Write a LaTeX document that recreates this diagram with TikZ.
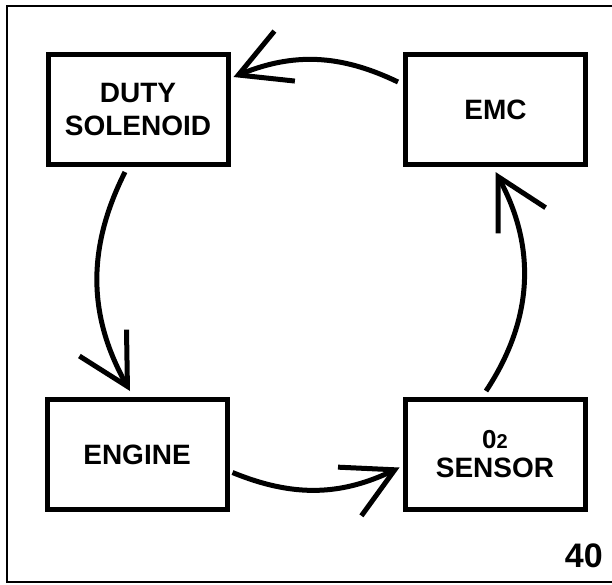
\documentclass[tikz,border=0pt]{standalone}
\usepackage{fontspec}
\setmainfont{Liberation Sans}
\usetikzlibrary{arrows.meta}
\begin{document}
\begin{tikzpicture}[x=1pt,y=-1pt,
  block/.style={draw=black, line width=5pt, minimum width=180pt, minimum height=110pt,
    inner sep=0pt, align=center, font=\bfseries\fontsize{28}{33}\selectfont},
  flow/.style={line width=5pt,
    -{Straight Barb[length=50pt,width=54pt,line cap=butt,line join=miter]}},
  frameline/.style={line width=2pt},
  numlabel/.style={anchor=base east, inner sep=0pt, font=\bfseries\fontsize{34}{34}\selectfont}]
\useasboundingbox (0,0) rectangle (612,584);
\draw[frameline] (612,6) -- (7,6) -- (7,582) -- (612,582);

\node[block] (duty) at (138,109.5) {DUTY\\SOLENOID};
\node[block] (emc) at (495.5,109.5) {EMC};
\node[block] (engine) at (137,454.5) {ENGINE};
\node[block] (sensor) at (495,454.5) {{\fontsize{26}{26}\selectfont 0}{\fontsize{20}{20}\selectfont 2}\\[-4pt]SENSOR};

\draw[flow] ([xshift=-5pt,yshift=27.5pt]emc.west) to[bend right=24] ([xshift=3pt,yshift=32.5pt]duty.east);
\draw[flow] ([xshift=-13pt,yshift=-5pt]duty.south) to[bend right=28] ([xshift=-7pt,yshift=6pt]engine.north);
\draw[flow] ([xshift=3pt,yshift=-18pt]engine.east) to[bend right=24] ([xshift=-3pt,yshift=-13pt]sensor.west);
\draw[flow] ([xshift=-9pt,yshift=6pt]sensor.north) to[bend right=31] ([yshift=-5pt]emc.south);

\node[numlabel] (pagenum) at (603,567) {40};
\end{tikzpicture}
\end{document}
